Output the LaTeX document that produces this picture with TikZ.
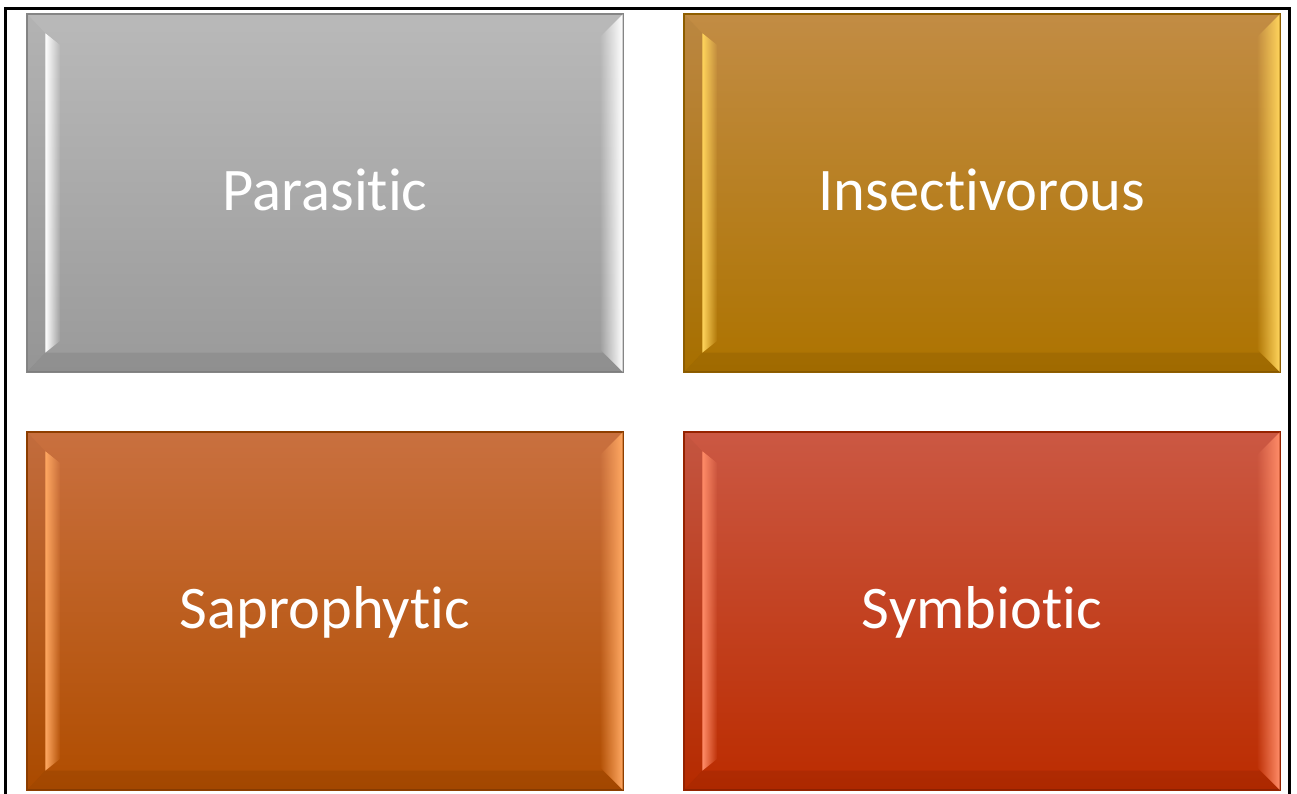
\documentclass[tikz,border=0pt]{standalone}
\usepackage{fontspec}
\setmainfont{Carlito}[Ligatures=NoCommon]
\usepackage{tikz}
\usetikzlibrary{calc, fadings}

\definecolor{grayTop}{HTML}{B9B9B9}
\definecolor{grayBot}{HTML}{9A9A9A}
\definecolor{grayEdge}{HTML}{858585}
\definecolor{grayHi}{HTML}{FFFFFF}
\definecolor{goldTop}{HTML}{C28C44}
\definecolor{goldBot}{HTML}{AD7300}
\definecolor{goldEdge}{HTML}{8F5E00}
\definecolor{goldHi}{HTML}{FFD45C}
\definecolor{orangeTop}{HTML}{C9703F}
\definecolor{orangeBot}{HTML}{B04D00}
\definecolor{orangeEdge}{HTML}{8E3E00}
\definecolor{orangeHi}{HTML}{FFA862}
\definecolor{redTop}{HTML}{CB5843}
\definecolor{redBot}{HTML}{BB2C00}
\definecolor{redEdge}{HTML}{962300}
\definecolor{redHi}{HTML}{FF8C68}

\tikzfading[name=glowleft, left color=transparent!0, right color=transparent!100]
\tikzfading[name=glowright, left color=transparent!100, right color=transparent!0]

\tikzset{
    plate/.style={rectangle, inner sep=0pt, minimum width=596pt, minimum height=358pt,
        draw=#1Edge, line width=1.2pt, top color=#1Top, bottom color=#1Bot,
        text=white, font=\fontsize{60.5}{70}\selectfont, text height=35pt, text depth=0pt},
    frameline/.style={line width=3pt, black}
}

\begin{document}
\begin{tikzpicture}[x=1pt, y=-1pt]
    \useasboundingbox (0,0) rectangle (1297,794);

    \node[plate=gray]   (parasitic)  at (325,193) {Parasitic};
    \node[plate=gold]   (insect)     at (982,193) {Insectivorous};
    \node[plate=orange] (sapro)      at (325,611) {Saprophytic};
    \node[plate=red]    (symb)       at (982,611) {Symbiotic};

    % bevel highlights
    \foreach \n/\c in {parasitic/gray, insect/gold, sapro/orange, symb/red} {
        \fill[black, opacity=0.03] ($(\n.north west)+(1,1)$) -- ($(\n.north west)+(19,20)$)
            -- ($(\n.south west)+(19,-20)$) -- ($(\n.south west)+(1,-1)$) -- cycle;
        \fill[black, opacity=0.07] ($(\n.south west)+(1,-1)$) -- ($(\n.south west)+(19,-20)$)
            -- ($(\n.south east)+(-21,-20)$) -- ($(\n.south east)+(-1,-1)$) -- cycle;
        \fill[\c Hi, path fading=glowleft] ($(\n.north west)+(19,20)$) -- ($(\n.north west)+(34,32)$)
            -- ($(\n.south west)+(34,-32)$) -- ($(\n.south west)+(19,-20)$) -- cycle;
        \fill[\c Hi, path fading=glowright] ($(\n.north east)+(-1,1)$) -- ($(\n.north east)+(-24,24)$)
            -- ($(\n.south east)+(-24,-24)$) -- ($(\n.south east)+(-1,-1)$) -- cycle;
    }

    % outer frame
    \coordinate (fbl) at (5.5,794);
    \coordinate (ftl) at (5.5,8.5);
    \coordinate (ftr) at (1289.5,8.5);
    \coordinate (fbr) at (1289.5,794);
    \draw[frameline] (fbl) -- (ftl) -- (ftr) -- (fbr);
\end{tikzpicture}
\end{document}
